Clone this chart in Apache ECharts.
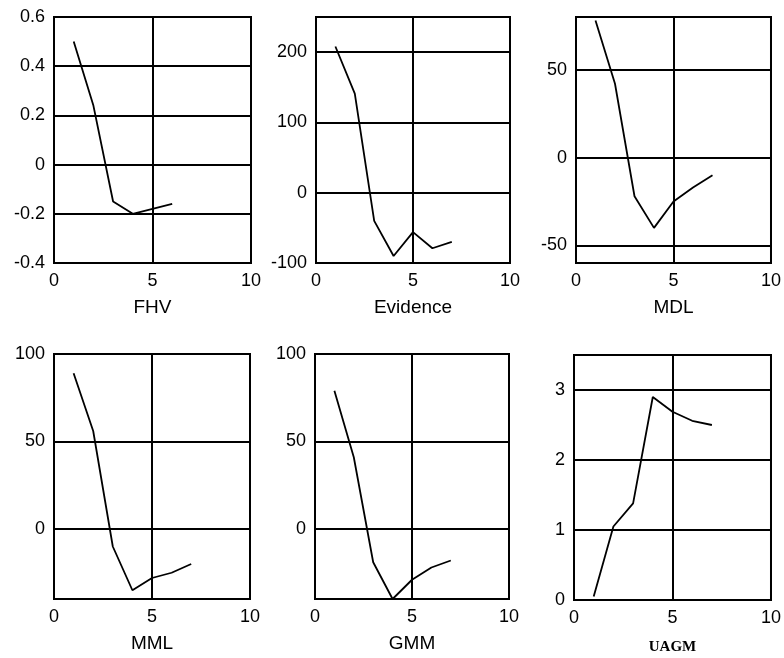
<!DOCTYPE html>
<html>
<head>
<meta charset="utf-8">
<script src="https://cdn.jsdelivr.net/npm/echarts@6/dist/echarts.min.js"></script>
<style>
  html, body { margin: 0; padding: 0; background: #fff; }
  #chart { width: 784px; height: 658px; }
</style>
</head>
<body>
<div id="chart"></div>
<script>
// Number of clusters on the x axis
const clusters = [1, 2, 3, 4, 5, 6, 7];

// Criterion values per number of clusters
const fhv = [0.5, 0.24, -0.15, -0.2, -0.18, -0.16];
const evidence = [208, 141, -40, -90, -56, -79, -70];
const mdl = [78, 42, -22, -40, -25, -17, -10];
const mml = [89, 56, -10, -35, -28, -25, -20];
const gmm = [79, 41, -19, -40, -29, -22, -18];
const uagm = [0.05, 1.05, 1.38, 2.9, 2.69, 2.56, 2.5];

// Tick labels
const xTicks = [0, 5, 10];
const fhvTicks = [-0.4, -0.2, 0, 0.2, 0.4, 0.6];
const evidenceTicks = [-100, 0, 100, 200];
const mdlTicks = [-50, 0, 50];
const mmlTicks = [0, 50, 100];
const gmmTicks = [0, 50, 100];
const uagmTicks = [0, 1, 2, 3];

const panels = [
  { name: 'FHV', values: fhv, ticks: fhvTicks, min: -0.4, max: 0.6,
    box: { left: 54, top: 17, width: 197, height: 246 } },
  { name: 'Evidence', values: evidence, ticks: evidenceTicks, min: -100, max: 250,
    box: { left: 316, top: 17, width: 194, height: 246 } },
  { name: 'MDL', values: mdl, ticks: mdlTicks, min: -60, max: 80,
    box: { left: 576, top: 17, width: 196, height: 246 } },
  { name: 'MML', values: mml, ticks: mmlTicks, min: -40, max: 100,
    box: { left: 54, top: 354, width: 196, height: 245 } },
  { name: 'GMM', values: gmm, ticks: gmmTicks, min: -40, max: 100,
    box: { left: 315, top: 354, width: 194, height: 245 } },
  { name: 'UAGM', values: uagm, ticks: uagmTicks, min: 0, max: 3.5, serif: true,
    box: { left: 574, top: 355, width: 198, height: 245 } }
];

const ink = '#000';
const sans = 'Liberation Sans, Arial, sans-serif';

const option = {
  backgroundColor: '#fff',
  animation: false,
  grid: panels.map(p => Object.assign({
    show: true, borderColor: ink, borderWidth: 2, backgroundColor: 'transparent'
  }, p.box)),
  xAxis: panels.map((p, i) => ({
    type: 'value', gridIndex: i, min: 0, max: 10,
    name: p.name, nameLocation: 'middle', nameGap: p.serif ? 40 : 35,
    nameTextStyle: p.serif
      ? { fontFamily: 'Liberation Serif, Times New Roman, serif', fontWeight: 'bold', fontSize: 15, color: ink }
      : { fontFamily: sans, fontSize: 19, color: ink },
    axisLine: { show: true, onZero: false, lineStyle: { color: ink, width: 2 } },
    axisTick: { show: false, customValues: xTicks },
    axisLabel: { customValues: xTicks, fontFamily: sans, fontSize: 18, color: ink, margin: 9 },
    splitLine: { show: true, lineStyle: { color: ink, width: 2 } }
  })),
  yAxis: panels.map((p, i) => ({
    type: 'value', gridIndex: i, min: p.min, max: p.max,
    axisLine: { show: true, onZero: false, lineStyle: { color: ink, width: 2 } },
    axisTick: { show: false, customValues: p.ticks },
    axisLabel: { customValues: p.ticks, fontFamily: sans, fontSize: 18, color: ink, margin: 9 },
    splitLine: { show: true, lineStyle: { color: ink, width: 2 } }
  })),
  series: panels.map((p, i) => ({
    type: 'line', xAxisIndex: i, yAxisIndex: i,
    symbol: 'none', smooth: false, clip: true,
    lineStyle: { color: ink, width: 1.8 },
    data: p.values.map((v, k) => [clusters[k], v])
  }))
};

const chart = echarts.init(document.getElementById('chart'), null, { renderer: 'canvas' });
chart.setOption(option);
</script>
</body>
</html>
